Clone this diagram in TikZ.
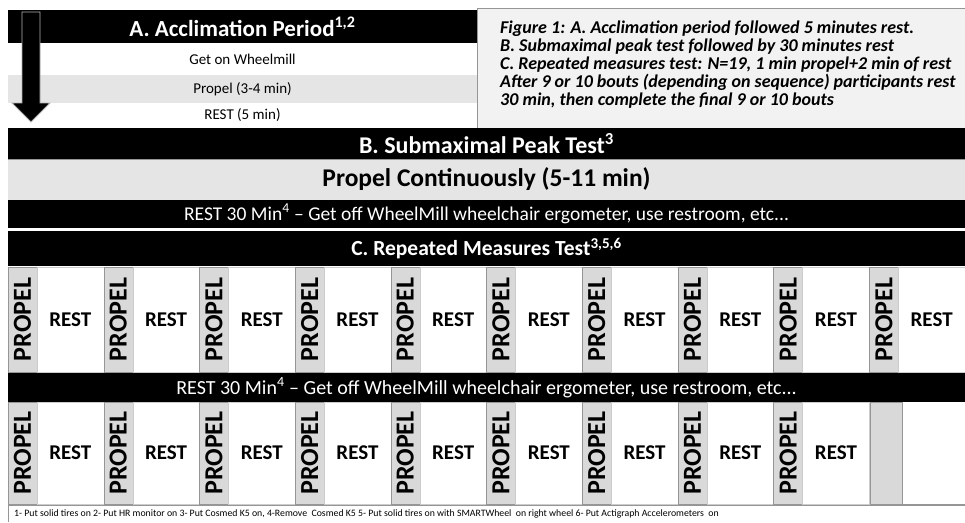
\documentclass[tikz,border=0pt]{standalone}
\usepackage{fontspec}
\setmainfont{Carlito}
\usetikzlibrary{positioning}
\definecolor{cellgray}{RGB}{217,217,217}
\definecolor{rowgray}{RGB}{229,229,229}
\definecolor{notegray}{RGB}{242,242,242}
\definecolor{linegray}{RGB}{150,150,150}

\begin{document}
\begin{tikzpicture}[x=1pt, y=-1pt,
  bar/.style={fill=black, text=white, inner sep=0pt, outer sep=0pt, minimum width=957pt},
  row/.style={inner sep=0pt, outer sep=0pt, minimum width=469pt, font=\fontsize{15}{18}\selectfont},
  propelcell/.style={fill=cellgray, draw=linegray, inner sep=0pt, outer sep=0pt, minimum width=29pt, font=\bfseries\fontsize{26}{30}\selectfont},
  restcell/.style={draw=gray!40, inner sep=0pt, outer sep=0pt, minimum width=66.7pt, font=\bfseries\fontsize{21}{25}\selectfont}]
  \useasboundingbox[fill=white] (0,0) rectangle (965,522);

  % A. acclimation
  \node[bar, minimum width=469pt, minimum height=33pt, font=\bfseries\fontsize{23}{26}\selectfont] (Ahead) at (242.5,26.5) {A. Acclimation Period\textsuperscript{1,2}};
  \node[row, minimum height=32pt] (Aget) at (242.5,59) {Get on Wheelmill};
  \node[row, fill=rowgray, minimum height=28pt] (Aprop) at (242.5,89) {Propel (3-4 min)};
  \node[row, minimum height=25pt] (Arest) at (242.5,115.5) {REST (5 min)};
  \draw[fill=black, draw=gray!60, line width=0.8pt] (22,12) -- (40,12) -- (40,103) -- (50,103) -- (31,122) -- (12,103) -- (22,103) -- cycle;

  % caption
  \node[draw=linegray, fill=notegray, inner sep=0pt, outer sep=0pt, minimum width=488pt, minimum height=120pt] (note) at (721,68) {};
  \node[anchor=north west, align=left, inner sep=0pt, font=\bfseries\itshape\fontsize{18}{18}\selectfont] (notetext) at (500,21) {Figure 1: A. Acclimation period followed 5 minutes rest.\\
    B. Submaximal peak test followed by 30 minutes rest\\
    C. Repeated measures test: N=19, 1 min propel+2 min of rest\\
    After 9 or 10 bouts (depending on sequence) participants rest\\
    30 min, then complete the final 9 or 10 bouts};

  % B. submaximal peak test
  \node[bar, minimum height=31pt, font=\bfseries\fontsize{24}{26}\selectfont] (Bhead) at (486.5,143.5) {B. Submaximal Peak Test\textsuperscript{3}};
  \node[row, fill=rowgray, minimum width=957pt, minimum height=41pt, font=\bfseries\fontsize{25.5}{30}\selectfont] (Bprop) at (486.5,179.5) {Propel Continuously (5-11 min)};
  \draw[linegray] (Bprop.north west) -- (Bprop.north east);
  \draw[linegray] (Bprop.south west) -- (Bprop.south east);
  \node[bar, minimum height=28pt, font=\fontsize{19.5}{22}\selectfont] (Brest) at (486.5,214) {REST 30 Min\textsuperscript{4} – Get off WheelMill wheelchair ergometer, use restroom, etc...};

  % C. repeated measures
  \node[bar, minimum height=35pt, font=\bfseries\fontsize{21.5}{24}\selectfont] (Chead) at (486.5,248.5) {C. Repeated Measures Test\textsuperscript{3,5,6}};
  \foreach \i in {0,...,9} {
    \node[propelcell, minimum height=105pt] (propA\i) at ({8+95.7*\i+14.5},319.5) {\rotatebox{90}{PROPEL}};
    \node[restcell, minimum height=105pt, right=0pt of propA\i] (restA\i) {REST};
  }
  \node[bar, minimum height=29pt, font=\fontsize{20}{22}\selectfont] (Crest) at (486.5,387.5) {REST 30 Min\textsuperscript{4} – Get off WheelMill wheelchair ergometer, use restroom, etc...};
  \foreach \i in {0,...,8} {
    \node[propelcell, minimum height=102pt] (propB\i) at ({8+95.7*\i+14.5},453) {\rotatebox{90}{PROPEL}};
    \node[restcell, minimum height=102pt, right=0pt of propB\i] (restB\i) {REST};
  }
  \node[propelcell, minimum width=32pt, minimum height=102pt] (propB9) at (886,453) {};
  \draw[linegray] (propB9.south east) -- (965,504);

  % footnotes
  \draw[linegray] (8,522) -- (8,505) -- (965,505);
  \node[anchor=west, inner sep=0pt, font=\fontsize{9.8}{11}\selectfont] (notes) at (14,513.5) {1- Put solid tires on 2- Put HR monitor on 3- Put Cosmed K5 on, 4-Remove\ \ Cosmed K5 5- Put solid tires on with SMARTWheel\ \ on right wheel 6- Put Actigraph Accelerometers\ \ on};
\end{tikzpicture}
\end{document}
